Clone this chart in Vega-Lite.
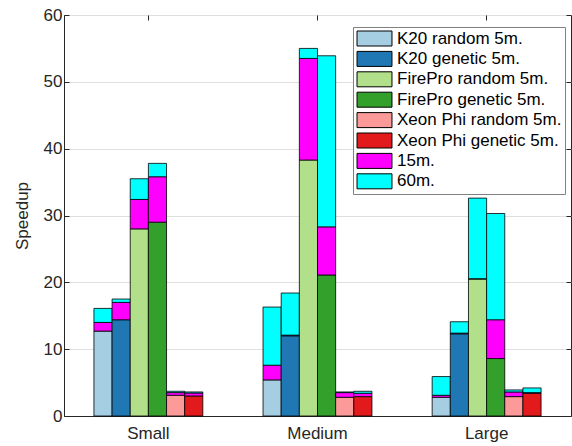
{
  "$schema": "https://vega.github.io/schema/vega-lite/v6.json",
  "width": 507,
  "height": 401,
  "autosize": {"type": "none"},
  "padding": {"left": 64, "top": 15, "right": 1, "bottom": 30},
  "background": "white",
  "config": {
    "font": "Liberation Sans",
    "view": {"stroke": "#262626", "strokeWidth": 1},
    "axis": {"labelFont": "Liberation Sans", "titleFont": "Liberation Sans", "labelFontSize": 17, "titleFontSize": 17, "labelColor": "#262626", "titleColor": "#262626", "titleFontWeight": "normal", "domainColor": "#262626", "tickColor": "#262626", "gridColor": "#dfdfdf", "gridWidth": 1}
  },
  "data": {"values": [
    {"size":"Small","bar":"K20 random","series":"K20 random 5m.","seg":1,"value":12.7},
    {"size":"Small","bar":"K20 random","series":"15m.","seg":2,"value":1.3},
    {"size":"Small","bar":"K20 random","series":"60m.","seg":3,"value":2.1},
    {"size":"Small","bar":"K20 genetic","series":"K20 genetic 5m.","seg":1,"value":14.4},
    {"size":"Small","bar":"K20 genetic","series":"15m.","seg":2,"value":2.6},
    {"size":"Small","bar":"K20 genetic","series":"60m.","seg":3,"value":0.5},
    {"size":"Small","bar":"FirePro random","series":"FirePro random 5m.","seg":1,"value":28.0},
    {"size":"Small","bar":"FirePro random","series":"15m.","seg":2,"value":4.4},
    {"size":"Small","bar":"FirePro random","series":"60m.","seg":3,"value":3.1},
    {"size":"Small","bar":"FirePro genetic","series":"FirePro genetic 5m.","seg":1,"value":29.0},
    {"size":"Small","bar":"FirePro genetic","series":"15m.","seg":2,"value":6.8},
    {"size":"Small","bar":"FirePro genetic","series":"60m.","seg":3,"value":2.0},
    {"size":"Small","bar":"Xeon Phi random","series":"Xeon Phi random 5m.","seg":1,"value":3.1},
    {"size":"Small","bar":"Xeon Phi random","series":"15m.","seg":2,"value":0.4},
    {"size":"Small","bar":"Xeon Phi random","series":"60m.","seg":3,"value":0.2},
    {"size":"Small","bar":"Xeon Phi genetic","series":"Xeon Phi genetic 5m.","seg":1,"value":3.0},
    {"size":"Small","bar":"Xeon Phi genetic","series":"15m.","seg":2,"value":0.45},
    {"size":"Small","bar":"Xeon Phi genetic","series":"60m.","seg":3,"value":0.15},
    {"size":"Medium","bar":"K20 random","series":"K20 random 5m.","seg":1,"value":5.4},
    {"size":"Medium","bar":"K20 random","series":"15m.","seg":2,"value":2.2},
    {"size":"Medium","bar":"K20 random","series":"60m.","seg":3,"value":8.7},
    {"size":"Medium","bar":"K20 genetic","series":"K20 genetic 5m.","seg":1,"value":12.0},
    {"size":"Medium","bar":"K20 genetic","series":"15m.","seg":2,"value":0.1},
    {"size":"Medium","bar":"K20 genetic","series":"60m.","seg":3,"value":6.3},
    {"size":"Medium","bar":"FirePro random","series":"FirePro random 5m.","seg":1,"value":38.3},
    {"size":"Medium","bar":"FirePro random","series":"15m.","seg":2,"value":15.2},
    {"size":"Medium","bar":"FirePro random","series":"60m.","seg":3,"value":1.5},
    {"size":"Medium","bar":"FirePro genetic","series":"FirePro genetic 5m.","seg":1,"value":21.1},
    {"size":"Medium","bar":"FirePro genetic","series":"15m.","seg":2,"value":7.2},
    {"size":"Medium","bar":"FirePro genetic","series":"60m.","seg":3,"value":25.6},
    {"size":"Medium","bar":"Xeon Phi random","series":"Xeon Phi random 5m.","seg":1,"value":2.8},
    {"size":"Medium","bar":"Xeon Phi random","series":"15m.","seg":2,"value":0.7},
    {"size":"Medium","bar":"Xeon Phi random","series":"60m.","seg":3,"value":0.1},
    {"size":"Medium","bar":"Xeon Phi genetic","series":"Xeon Phi genetic 5m.","seg":1,"value":2.9},
    {"size":"Medium","bar":"Xeon Phi genetic","series":"15m.","seg":2,"value":0.5},
    {"size":"Medium","bar":"Xeon Phi genetic","series":"60m.","seg":3,"value":0.3},
    {"size":"Large","bar":"K20 random","series":"K20 random 5m.","seg":1,"value":2.8},
    {"size":"Large","bar":"K20 random","series":"15m.","seg":2,"value":0.3},
    {"size":"Large","bar":"K20 random","series":"60m.","seg":3,"value":2.8},
    {"size":"Large","bar":"K20 genetic","series":"K20 genetic 5m.","seg":1,"value":12.3},
    {"size":"Large","bar":"K20 genetic","series":"15m.","seg":2,"value":0.1},
    {"size":"Large","bar":"K20 genetic","series":"60m.","seg":3,"value":1.7},
    {"size":"Large","bar":"FirePro random","series":"FirePro random 5m.","seg":1,"value":20.5},
    {"size":"Large","bar":"FirePro random","series":"15m.","seg":2,"value":0.05},
    {"size":"Large","bar":"FirePro random","series":"60m.","seg":3,"value":12.05},
    {"size":"Large","bar":"FirePro genetic","series":"FirePro genetic 5m.","seg":1,"value":8.6},
    {"size":"Large","bar":"FirePro genetic","series":"15m.","seg":2,"value":5.8},
    {"size":"Large","bar":"FirePro genetic","series":"60m.","seg":3,"value":15.9},
    {"size":"Large","bar":"Xeon Phi random","series":"Xeon Phi random 5m.","seg":1,"value":2.9},
    {"size":"Large","bar":"Xeon Phi random","series":"15m.","seg":2,"value":0.7},
    {"size":"Large","bar":"Xeon Phi random","series":"60m.","seg":3,"value":0.3},
    {"size":"Large","bar":"Xeon Phi genetic","series":"Xeon Phi genetic 5m.","seg":1,"value":3.4},
    {"size":"Large","bar":"Xeon Phi genetic","series":"15m.","seg":2,"value":0.1},
    {"size":"Large","bar":"Xeon Phi genetic","series":"60m.","seg":3,"value":0.7}
  ]},
  "layer": [
    {
      "mark": {"type": "bar", "stroke": "#000", "strokeWidth": 1, "strokeOpacity": 0.8},
      "encoding": {
        "x": {"field": "size", "type": "nominal", "sort": ["Small","Medium","Large"],
              "scale": {"paddingInner": 0.356, "paddingOuter": 0.177},
              "axis": {"title": null, "labelAngle": 0, "ticks": false, "labelPadding": 9, "domain": true}},
        "xOffset": {"field": "bar", "type": "nominal",
              "sort": ["K20 random","K20 genetic","FirePro random","FirePro genetic","Xeon Phi random","Xeon Phi genetic"],
              "scale": {"paddingInner": 0, "paddingOuter": 0}},
        "y": {"field": "value", "type": "quantitative", "stack": "zero",
              "scale": {"domain": [0, 60], "nice": false},
              "axis": {"title": "Speedup", "values": [0,10,20,30,40,50,60], "tickSize": -5, "labelPadding": 7, "titlePadding": 12, "grid": true}},
        "color": {"field": "series", "type": "nominal",
              "scale": {"domain": ["K20 random 5m.","K20 genetic 5m.","FirePro random 5m.","FirePro genetic 5m.","Xeon Phi random 5m.","Xeon Phi genetic 5m.","15m.","60m."],
                        "range": ["#a6cee3","#1f78b4","#b2df8a","#33a02c","#fb9a99","#e31a1c","#ff00ff","#00ffff"]},
              "legend": {"title": null, "orient": "none", "legendX": 289, "legendY": 12,
                         "fillColor": "white", "strokeColor": "#808080", "padding": 3,
                         "symbolType": "M-2.33,-1H2.33V1H-2.33Z", "symbolSize": 225,
                         "symbolStrokeColor": "#000", "symbolStrokeWidth": 1, "symbolOpacity": 1,
                         "symbolOffset": 10, "labelOffset": 14,
                         "labelFont": "Liberation Sans", "labelFontSize": 17, "labelColor": "#000",
                         "rowPadding": 1.4, "labelLimit": 300}},
        "order": {"field": "seg", "type": "quantitative"}
      }
    },
    {
      "mark": {"type": "bar", "opacity": 0},
      "encoding": {
        "x": {"field": "size", "type": "nominal", "sort": ["Small","Medium","Large"],
              "axis": {"orient": "top", "title": null, "labels": false, "ticks": true, "tickSize": -5, "domain": false, "grid": false}},
        "xOffset": {"field": "bar", "type": "nominal",
              "sort": ["K20 random","K20 genetic","FirePro random","FirePro genetic","Xeon Phi random","Xeon Phi genetic"]},
        "y": {"field": "value", "type": "quantitative", "stack": "zero",
              "axis": {"orient": "right", "title": null, "labels": false, "values": [0,10,20,30,40,50,60], "tickSize": -5, "domain": false, "grid": false}}
      }
    }
  ],
  "resolve": {"axis": {"x": "independent", "y": "independent"}}
}
